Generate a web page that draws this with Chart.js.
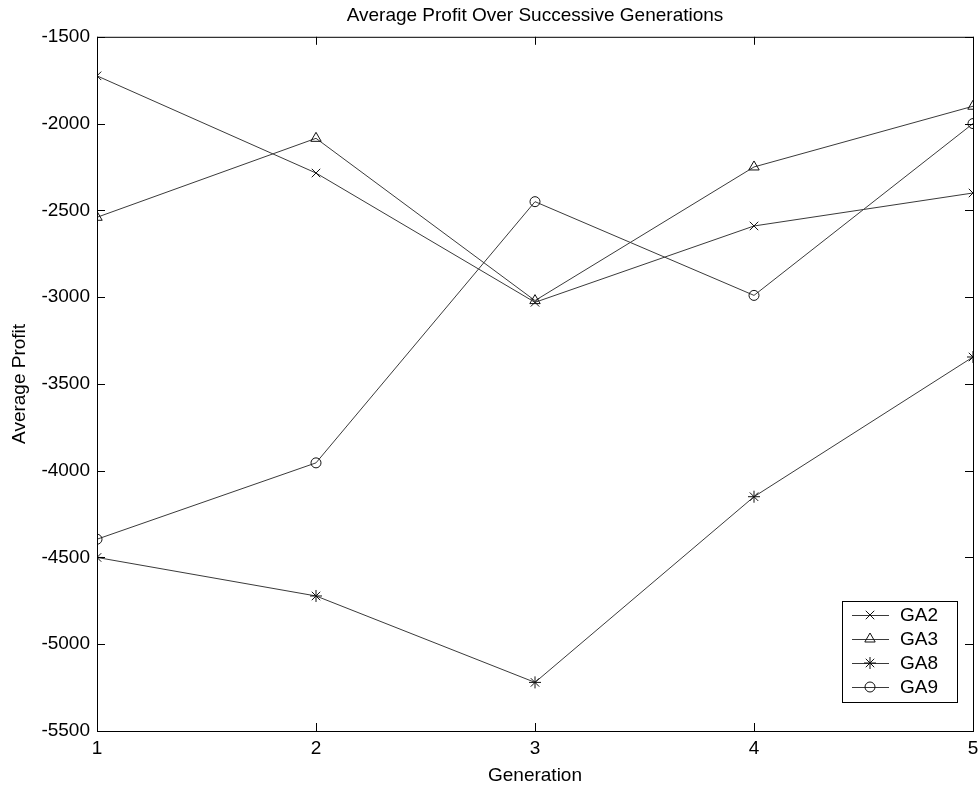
<!DOCTYPE html>
<html>
<head>
<meta charset="utf-8">
<script src="https://cdn.jsdelivr.net/npm/chart.js@4"></script>
<style>
  html, body { margin: 0; padding: 0; background: #fff; }
  #wrap { width: 980px; height: 789px; }
</style>
</head>
<body>
<div id="wrap"><canvas id="chart" width="980" height="789"></canvas></div>
<script>
// values
var generations = [1, 2, 3, 4, 5];
var ga2 = [-1725, -2285, -3030, -2590, -2400];
var ga3 = [-2540, -2085, -3020, -2250, -1900];
var ga8 = [-4500, -4722, -5220, -4150, -3345];
var ga9 = [-4395, -3955, -2450, -2990, -2000];
var yTicks = [-5500, -5000, -4500, -4000, -3500, -3000, -2500, -2000, -1500];

var FONT = "Arial, 'Liberation Sans', sans-serif";
var LINE = '#3a3a3a';

function series(label, values, style, r) {
    return {
        label: label,
        data: generations.map((g, i) => ({x: g, y: values[i]})),
        borderColor: LINE,
        borderWidth: 1,
        pointStyle: style,
        pointRadius: r,
        pointBorderColor: '#111',
        pointBackgroundColor: 'rgba(0,0,0,0)',
        pointBorderWidth: 1,
        tension: 0
    };
}

// frame with inward ticks on all four sides, like the original plot
var framePlugin = {
    id: 'frame',
    afterDraw(chart) {
        var ctx = chart.ctx, a = chart.chartArea;
        var xs = chart.scales.x, ys = chart.scales.y;
        var len = 8;
        ctx.save();
        ctx.strokeStyle = '#000';
        ctx.lineWidth = 1;
        ctx.strokeRect(a.left + 0.5, a.top + 0.5, a.right - a.left, a.bottom - a.top);
        ctx.beginPath();
        for (let g of generations) {
            var px = Math.round(xs.getPixelForValue(g)) + 0.5;
            ctx.moveTo(px, a.bottom); ctx.lineTo(px, a.bottom - len);
            ctx.moveTo(px, a.top); ctx.lineTo(px, a.top + len);
        }
        for (let t of yTicks) {
            var py = Math.round(ys.getPixelForValue(t)) + 0.5;
            ctx.moveTo(a.left, py); ctx.lineTo(a.left + len, py);
            ctx.moveTo(a.right, py); ctx.lineTo(a.right - len, py);
        }
        ctx.stroke();

        // legend box in the lower right corner
        var bx = 842, by = 601, bw = 115, bh = 101;
        ctx.fillStyle = '#fff';
        ctx.fillRect(bx, by, bw, bh);
        ctx.strokeRect(bx + 0.5, by + 0.5, bw, bh);
        ctx.font = '19px ' + FONT;
        ctx.textBaseline = 'middle';
        chart.data.datasets.forEach((ds, i) => {
            var y = by + 14 + i * 24;
            ctx.strokeStyle = LINE;
            ctx.beginPath();
            ctx.moveTo(bx + 10, y + 0.5); ctx.lineTo(bx + 47, y + 0.5);
            ctx.stroke();
            ctx.fillStyle = 'rgba(0,0,0,0)';
            ctx.strokeStyle = '#111';
            Chart.helpers.drawPoint(ctx, {pointStyle: ds.pointStyle, radius: ds.pointRadius, rotation: 0, borderWidth: 1}, bx + 28, y);
            ctx.fillStyle = '#000';
            ctx.fillText(ds.label, bx + 58, y + 1);
        });
        ctx.restore();
    }
};

new Chart(document.getElementById('chart'), {
    type: 'line',
    data: {
        datasets: [
            series('GA2', ga2, 'crossRot', 6),
            series('GA3', ga3, 'triangle', 6),
            series('GA8', ga8, 'star', 6),
            series('GA9', ga9, 'circle', 5)
        ]
    },
    options: {
        responsive: false,
        animation: false,
        layout: { padding: { left: 0, right: 0, top: 0, bottom: 0 } },
        plugins: {
            legend: { display: false },
            tooltip: { enabled: false },
            title: {
                display: true,
                fullSize: false,
                text: 'Average Profit Over Successive Generations',
                color: '#000',
                font: { family: FONT, size: 19, weight: 'normal' },
                padding: { top: 4, bottom: 10 }
            }
        },
        scales: {
            x: {
                type: 'linear',
                min: 1, max: 5,
                afterBuildTicks: s => { s.ticks = generations.map(v => ({value: v})); },
                afterFit: s => { s.height = 58; s.paddingLeft = 0; s.paddingRight = 5; },
                grid: { display: false, drawTicks: false },
                border: { display: false },
                ticks: { color: '#000', font: { family: FONT, size: 19 }, padding: 6, maxRotation: 0, callback: v => String(v) },
                title: { display: true, text: 'Generation', color: '#000', font: { family: FONT, size: 19 }, padding: { top: 0, bottom: 2 } }
            },
            y: {
                min: -5500, max: -1500,
                afterBuildTicks: s => { s.ticks = yTicks.map(v => ({value: v})); },
                afterFit: s => { s.width = 97; },
                grid: { display: false, drawTicks: false },
                border: { display: false },
                ticks: { color: '#000', font: { family: FONT, size: 19 }, padding: 7, callback: v => String(v) },
                title: { display: true, text: 'Average Profit', color: '#000', font: { family: FONT, size: 19 }, padding: { top: 8, bottom: 0 } }
            }
        }
    },
    plugins: [framePlugin]
});
</script>
</body>
</html>
